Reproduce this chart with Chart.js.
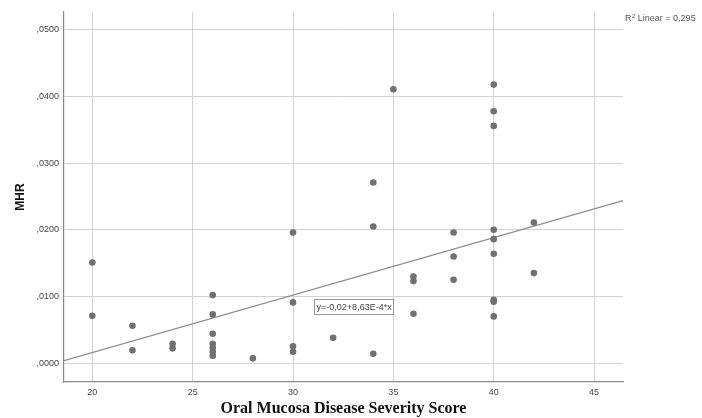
<!DOCTYPE html>
<html>
<head>
<meta charset="utf-8">
<script src="https://cdn.jsdelivr.net/npm/chart.js@4"></script>
<style>
  body { margin: 0; background: #fff; }
  #wrap { width: 702px; height: 418px; }
</style>
</head>
<body>
<div id="wrap"><canvas id="myChart"></canvas></div>
<script>
// severity score (x) and MHR (y)
const scores = [
    20, 20,
    22, 22,
    24, 24,
    26, 26, 26, 26, 26, 26, 26,
    28,
    30, 30, 30, 30,
    32,
    34, 34, 34,
    35,
    36, 36, 36,
    38, 38, 38,
    40, 40, 40, 40, 40, 40, 40, 40, 40,
    42, 42
]
const mhr = [
    0.0151, 0.0071,
    0.0056, 0.0019,
    0.0029, 0.0022,
    0.0102, 0.0073, 0.0044, 0.0029, 0.0023, 0.0017, 0.0011,
    0.0007,
    0.0196, 0.0091, 0.0025, 0.0017,
    0.0038,
    0.0271, 0.0205, 0.0014,
    0.0411,
    0.0130, 0.0123, 0.0074,
    0.0196, 0.0160, 0.0125,
    0.0418, 0.0378, 0.0356, 0.0200, 0.0186, 0.0164, 0.0095, 0.0092, 0.0070,
    0.0211, 0.0135
]
const xTicks = [20, 25, 30, 35, 40, 45]
const yTicks = [0, 0.01, 0.02, 0.03, 0.04, 0.05]

// fit line as reported by SPSS
const fitIntercept = -0.0157
const fitSlope = 0.000863
const fitText = 'y=-0,02+8,63E-4*x'
const r2Text = ' Linear = 0,295'

const xMin = 18.59, xMax = 46.44
const yMin = -0.00285, yMax = 0.0527

const points = scores.map((s, i) => ({ x: s, y: mhr[i] }))
const fitLine = [xMin, xMax].map(v => ({ x: v, y: fitIntercept + fitSlope * v }))

const labelPlugin = {
    id: 'fitLabels',
    afterDatasetsDraw(chart) {
        const { ctx, chartArea, scales } = chart
        ctx.save()
        ctx.fillStyle = '#555'
        ctx.textBaseline = 'middle'
        // R² note in the right margin
        let tx = chartArea.right + 2
        const ty = 19
        ctx.font = '9px "Liberation Sans", Arial, sans-serif'
        ctx.fillText('R', tx, ty)
        tx += ctx.measureText('R').width
        ctx.font = '6px "Liberation Sans", Arial, sans-serif'
        ctx.fillText('2', tx + 0.5, ty - 3)
        tx += ctx.measureText('2').width + 0.5
        ctx.font = '9px "Liberation Sans", Arial, sans-serif'
        ctx.fillText(r2Text, tx, ty)

        // equation box, anchored to data position
        const bx = scales.x.getPixelForValue(31.05)
        const by = scales.y.getPixelForValue(0.0096)
        ctx.font = '9px "Liberation Sans", Arial, sans-serif'
        const w = ctx.measureText(fitText).width + 4
        ctx.fillStyle = '#fff'
        ctx.fillRect(bx, by, w, 15)
        ctx.strokeStyle = '#999'
        ctx.lineWidth = 1
        ctx.strokeRect(Math.round(bx) + 0.5, Math.round(by) + 0.5, Math.round(w), 15)
        ctx.fillStyle = '#444'
        ctx.fillText(fitText, bx + 2.5, by + 8)
        ctx.restore()
    }
}

const canvas = document.getElementById('myChart')

const config = {
    type: 'scatter',
    data: {
        datasets: [{
            label: 'MHR',
            data: points,
            backgroundColor: '#707070',
            borderColor: '#707070',
            pointRadius: 3.3,
            pointBorderWidth: 0,
            order: 1
        }, {
            label: 'Linear fit',
            data: fitLine,
            showLine: true,
            borderColor: '#8c8c8c',
            borderWidth: 1.2,
            pointRadius: 0,
            order: 2
        }]
    },
    options: {
        responsive: true,
        maintainAspectRatio: false,
        animation: false,
        layout: {
            padding: { top: 12, right: 79, left: 0, bottom: 0 }
        },
        plugins: {
            legend: { display: false },
            tooltip: { enabled: false }
        },
        scales: {
            x: {
                type: 'linear',
                min: xMin,
                max: xMax,
                afterBuildTicks: scale => { scale.ticks = xTicks.map(v => ({ value: v })) },
                afterFit: scale => { scale.height = 36 },
                grid: { color: '#d2d2d2', drawTicks: false },
                border: { color: '#8a8a8a', width: 1.2 },
                ticks: {
                    padding: 5,
                    color: '#444',
                    font: { family: '"Liberation Sans", Arial, sans-serif', size: 9 },
                    maxRotation: 0
                },
                title: {
                    display: true,
                    text: 'Oral Mucosa Disease Severity Score',
                    color: '#111',
                    font: { family: '"Liberation Serif", "Times New Roman", serif', size: 16, weight: 'bold' },
                    padding: { top: 0, bottom: 0 }
                }
            },
            y: {
                type: 'linear',
                min: yMin,
                max: yMax,
                afterBuildTicks: scale => { scale.ticks = yTicks.map(v => ({ value: v })) },
                afterFit: scale => { scale.width = 64 },
                grid: { color: '#d2d2d2', drawTicks: false },
                border: { color: '#8a8a8a', width: 1.2 },
                ticks: {
                    padding: 5,
                    color: '#444',
                    font: { family: '"Liberation Sans", Arial, sans-serif', size: 9 },
                    callback: v => v.toFixed(4).replace('0.', ',')
                },
                title: {
                    display: true,
                    text: 'MHR',
                    color: '#111',
                    font: { family: '"Liberation Sans", Arial, sans-serif', size: 12, weight: 'bold' },
                    padding: { top: 13, bottom: 0 }
                }
            }
        }
    },
    plugins: [labelPlugin]
}

const myChart = new Chart(canvas, config)
</script>
</body>
</html>
